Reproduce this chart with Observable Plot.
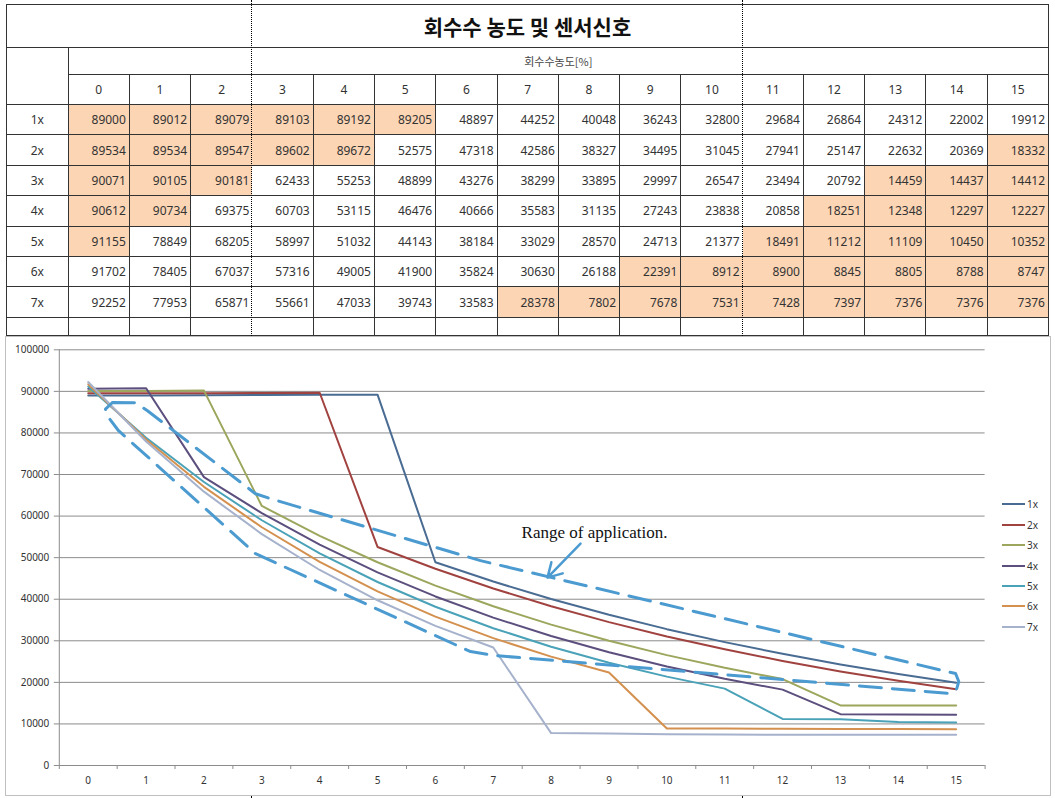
<!DOCTYPE html>
<html><head><meta charset="utf-8">
<script src="https://cdn.jsdelivr.net/npm/d3@7"></script>
<script src="https://cdn.jsdelivr.net/npm/@observablehq/plot@0.6"></script>
<style>
html,body{margin:0;padding:0;background:#fff;}
#page{position:relative;width:1055px;height:798px;overflow:hidden;font-family:"Noto Sans","Noto Sans CJK KR",sans-serif;background:#fff;}
#tbl{position:absolute;left:6px;top:4px;width:1043px;display:grid;grid-template-columns:61.6px repeat(16,1fr);grid-template-rows:43px 27px 30px repeat(7,30.4px) 18px;border-left:1px solid #333;border-top:1px solid #333;box-sizing:border-box;}
.cell{border-right:1px solid #333;border-bottom:1px solid #333;box-sizing:border-box;font-size:12px;color:#333;display:flex;align-items:center;justify-content:center;overflow:hidden;white-space:nowrap;}
.num{justify-content:flex-end;padding-right:3px;}
.shade{background:#fcd5b4;}
.nobr{border-right:none;}
.title{grid-column:1 / span 17;font-family:"Noto Sans CJK KR",sans-serif;font-weight:bold;font-size:21px;color:#111;}
.sub{grid-column:2 / span 16;font-family:"Noto Sans CJK KR",sans-serif;font-size:11px;color:#444;}
.corner{grid-row:2 / span 2;}
.pb{position:absolute;width:0;border-left:1px dotted #000;}
#chart{position:absolute;left:5px;top:336px;width:1046px;height:460px;border:1px solid #bfbfbf;box-sizing:border-box;background:#fff;}
#chart svg{display:block;}
#legend{position:absolute;left:1002px;top:494px;font-family:"Noto Sans",sans-serif;font-size:10px;color:#333;}
.li{height:20.45px;display:flex;align-items:center;}
.li span.sw{display:inline-block;width:23px;height:2px;margin-right:2px;}
</style>
</head><body>
<div id="page">
  <div id="tbl"></div>
  <div id="chart"></div>
  <div id="legend"></div>
</div>
<script>
// ---- data ----
const chartTitle = "회수수 농도 및 센서신호";
const headerLabel = "회수수농도[%]";
const concentrations = [0,1,2,3,4,5,6,7,8,9,10,11,12,13,14,15];
const seriesNames = ["1x","2x","3x","4x","5x","6x","7x"];
const s1x = [89000,89012,89079,89103,89192,89205,48897,44252,40048,36243,32800,29684,26864,24312,22002,19912];
const s2x = [89534,89534,89547,89602,89672,52575,47318,42586,38327,34495,31045,27941,25147,22632,20369,18332];
const s3x = [90071,90105,90181,62433,55253,48899,43276,38299,33895,29997,26547,23494,20792,14459,14437,14412];
const s4x = [90612,90734,69375,60703,53115,46476,40666,35583,31135,27243,23838,20858,18251,12348,12297,12227];
const s5x = [91155,78849,68205,58997,51032,44143,38184,33029,28570,24713,21377,18491,11212,11109,10450,10352];
const s6x = [91702,78405,67037,57316,49005,41900,35824,30630,26188,22391,8912,8900,8845,8805,8788,8747];
const s7x = [92252,77953,65871,55661,47033,39743,33583,28378,7802,7678,7531,7428,7397,7376,7376,7376];
const seriesValues = [s1x,s2x,s3x,s4x,s5x,s6x,s7x];
const yTicks = [0,10000,20000,30000,40000,50000,60000,70000,80000,90000,100000];
// hand-drawn "range of application" outline, in data units (x = concentration, y = signal)
const rangeOutline = [
  [0.419,87330],[0.817,87260],[1.024,85340],[2.891,65380],[3.150,64180],[6.779,49280],[14.990,22120],
  [15.045,20190],[15.010,18510],[14.904,17310],[7.039,26440],[6.607,27400],[2.891,50960],[0.524,80530],
  [0.328,84130],[0.298,85740],[0.419,87330]
];
const arrowNote = {x1:8.508, y1:53365, x2:7.937, y2:45190};
const noteText = {x:8.75, y:56010, text:"Range of application."};

// ---- styling ----
const seriesColors = ["#4a6c92","#a0423f","#9ca65c","#5c4f7e","#4aa2b8","#d4904e","#a6b2cc"];
const shaded = [[0,1,2,3,4,5],[0,1,2,3,4,15],[0,1,2,13,14,15],[0,1,12,13,14,15],[0,11,12,13,14,15],[9,10,11,12,13,14,15],[7,8,9,10,11,12,13,14,15]];

// ---- table ----
const tbl = d3.select("#tbl");
tbl.append("div").attr("class","cell title").text(chartTitle);
tbl.append("div").attr("class","cell corner");
tbl.append("div").attr("class","cell sub").text(headerLabel);
concentrations.forEach((c,j)=>{
  tbl.append("div").attr("class","cell" + ((j===2||j===10)?" nobr":"")).text(c);
});
seriesNames.forEach((s,i)=>{
  tbl.append("div").attr("class","cell").text(s);
  seriesValues[i].forEach((v,j)=>{
    tbl.append("div").attr("class","cell num" + (shaded[i].includes(j)?" shade":"") + ((j===2||j===10)?" nobr":"")).text(v);
  });
});
tbl.append("div").attr("class","cell");
concentrations.forEach((c,j)=>{
  tbl.append("div").attr("class","cell" + ((j===2||j===10)?" nobr":""));
});
// page-break dotted lines
const page = d3.select("#page");
[251,742].forEach(x=>{
  page.append("div").attr("class","pb").style("left",x+"px").style("top","0px").style("height","336px");
  page.append("div").attr("class","pb").style("left",x+"px").style("top","796px").style("height","2px");
});

// ---- chart ----
const rows = seriesNames.flatMap((s,i)=>concentrations.map((c,j)=>({series:s, conc:c, value:seriesValues[i][j]})));
const boundaries = concentrations.map(c=>c-0.5).concat([concentrations[concentrations.length-1]+0.5]);
const outline = rangeOutline.map(([x,y])=>({x,y}));

const chart = Plot.plot({
  width: 1044,
  height: 458,
  marginLeft: 52.8,
  marginRight: 65.4,
  marginTop: 12.3,
  marginBottom: 30,
  style: {fontFamily: "Noto Sans, sans-serif", fontSize: "10px", background: "#fff", color: "#333"},
  x: {domain: [boundaries[0], boundaries[boundaries.length-1]]},
  y: {domain: [0, 100000]},
  color: {domain: seriesNames, range: seriesColors},
  marks: [
    Plot.gridY(yTicks, {stroke: "#8c8c8c", strokeOpacity: 1}),
    Plot.ruleX([boundaries[0]], {stroke: "#8c8c8c"}),
    Plot.ruleY([0], {stroke: "#8c8c8c"}),
    Plot.axisY(yTicks, {tickSize: 5, tickPadding: 5, stroke: "#8c8c8c", fill: "#333", label: null, tickFormat: d3.format("d")}),
    Plot.axisX(boundaries, {tickSize: 4, tickFormat: () => "", stroke: "#8c8c8c", label: null}),
    Plot.axisX(concentrations, {tickSize: 0, tickPadding: 11, fill: "#333", label: null, tickFormat: d3.format("d")}),
    Plot.line(rows, {x: "conc", y: "value", z: "series", stroke: "series", strokeWidth: 2}),
    Plot.line(outline, {x: "x", y: "y", stroke: "#4b9bd1", strokeWidth: 3, strokeDasharray: "22,11", curve: "linear", fill: "none"}),
    Plot.arrow([arrowNote], {x1: "x1", y1: "y1", x2: "x2", y2: "y2", stroke: "#4b9bd1", strokeWidth: 2.5, headLength: 11}),
    Plot.text([noteText], {x: "x", y: "y", text: "text", fontFamily: "Liberation Serif, serif", fontSize: 17, fill: "#111"})
  ]
});
document.getElementById("chart").appendChild(chart);

// ---- legend ----
const legend = d3.select("#legend");
seriesNames.forEach((s,i)=>{
  const it = legend.append("div").attr("class","li");
  it.append("span").attr("class","sw").style("background", seriesColors[i]);
  it.append("span").text(s);
});
</script>
</body></html>
